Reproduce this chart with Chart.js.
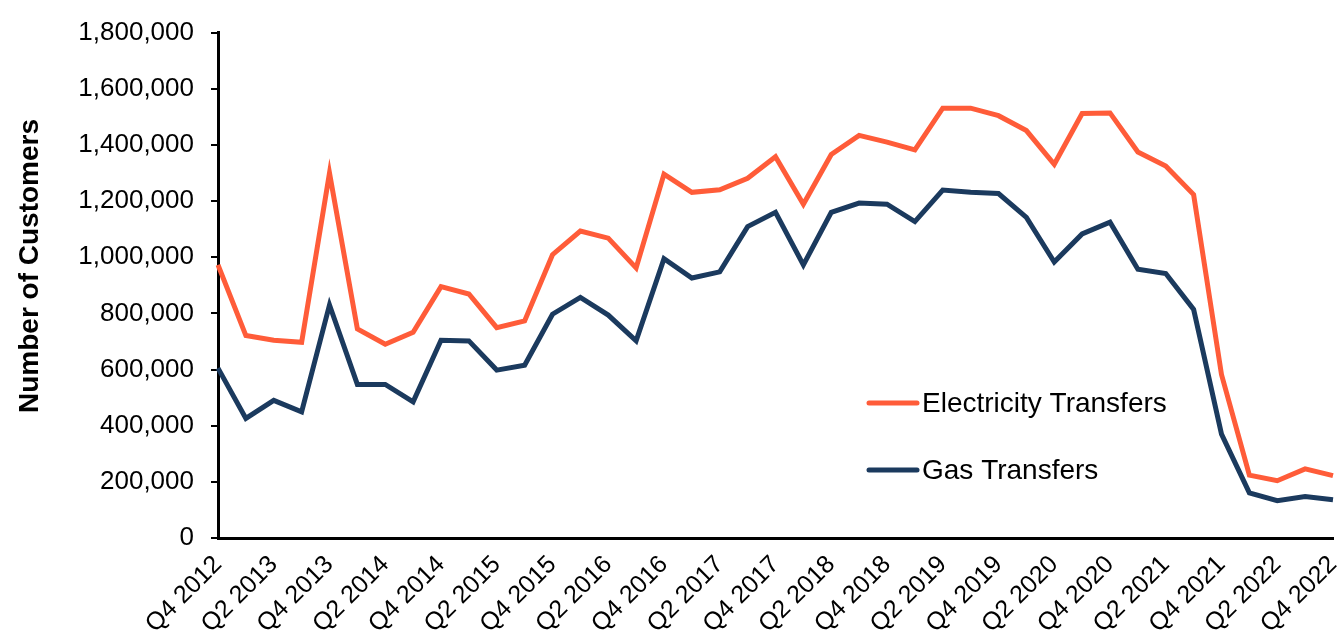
<!DOCTYPE html>
<html>
<head>
<meta charset="utf-8">
<title>Customer Transfers</title>
<script src="https://cdn.jsdelivr.net/npm/chart.js"></script>
<style>
  html, body { margin: 0; padding: 0; background: #fff; }
  .wrap { width: 1338px; height: 639px; position: relative; }
</style>
</head>
<body>
<div class="wrap"><canvas id="transferChart"></canvas></div>
<script>
// quarters Q4 2012 .. Q4 2022
const quarters = [
  'Q4 2012', 'Q1 2013', 'Q2 2013', 'Q3 2013', 'Q4 2013', 'Q1 2014', 'Q2 2014', 'Q3 2014',
  'Q4 2014', 'Q1 2015', 'Q2 2015', 'Q3 2015', 'Q4 2015', 'Q1 2016', 'Q2 2016', 'Q3 2016',
  'Q4 2016', 'Q1 2017', 'Q2 2017', 'Q3 2017', 'Q4 2017', 'Q1 2018', 'Q2 2018', 'Q3 2018',
  'Q4 2018', 'Q1 2019', 'Q2 2019', 'Q3 2019', 'Q4 2019', 'Q1 2020', 'Q2 2020', 'Q3 2020',
  'Q4 2020', 'Q1 2021', 'Q2 2021', 'Q3 2021', 'Q4 2021', 'Q1 2022', 'Q2 2022', 'Q3 2022',
  'Q4 2022'
];

const electricityTransfers = [
  973000, 721000, 704000, 697000, 1300000, 745000, 690000, 733000,
  895000, 869000, 749000, 773000, 1009000, 1093000, 1068000, 962000,
  1296000, 1231000, 1240000, 1281000, 1358000, 1189000, 1366000, 1434000,
  1410000, 1382000, 1531000, 1531000, 1504000, 1451000, 1331000, 1512000,
  1514000, 1375000, 1325000, 1223000, 582000, 224000, 204000, 246000,
  222000
];

const gasTransfers = [
  605000, 426000, 490000, 449000, 830000, 547000, 547000, 485000,
  704000, 702000, 598000, 615000, 797000, 857000, 794000, 702000,
  995000, 926000, 948000, 1109000, 1160000, 973000, 1160000, 1193000,
  1189000, 1127000, 1239000, 1231000, 1227000, 1142000, 983000, 1083000,
  1125000, 957000, 942000, 814000, 370000, 161000, 133000, 148000,
  136000
];

const yTitle = 'Number of Customers';
const yMax = 1800000;
const yStep = 200000;

const FONT = "'Liberation Sans', Arial, sans-serif";

// legend drawn inside the plot area, like the original
const insideLegend = {
  id: 'insideLegend',
  afterDraw(chart, args, opts) {
    const ctx = chart.ctx;
    ctx.save();
    chart.data.datasets.forEach((ds, i) => {
      const y = opts.y + i * opts.gap;
      ctx.strokeStyle = ds.borderColor;
      ctx.lineWidth = 5;
      ctx.lineCap = 'round';
      ctx.beginPath();
      ctx.moveTo(opts.x, y);
      ctx.lineTo(opts.x + 48, y);
      ctx.stroke();
      ctx.fillStyle = '#000';
      ctx.font = '28px ' + FONT;
      ctx.textBaseline = 'middle';
      ctx.textAlign = 'left';
      ctx.fillText(ds.label, opts.x + 53, y + 1);
    });
    ctx.restore();
  }
};

// y axis title, sits a bit above the middle of the axis in the original
const sideTitle = {
  id: 'sideTitle',
  afterDraw(chart, args, opts) {
    const ctx = chart.ctx;
    ctx.save();
    ctx.translate(opts.x, opts.y);
    ctx.rotate(-Math.PI / 2);
    ctx.fillStyle = '#000';
    ctx.font = 'bold 28px ' + FONT;
    ctx.textAlign = 'center';
    ctx.textBaseline = 'middle';
    ctx.fillText(opts.text, 0, 0);
    ctx.restore();
  }
};

const ctx = document.getElementById('transferChart').getContext('2d');
new Chart(ctx, {
  type: 'line',
  data: {
    labels: quarters,
    datasets: [
      {
        label: 'Electricity Transfers',
        data: electricityTransfers,
        borderColor: '#FF5C39',
        borderWidth: 5,
        pointRadius: 0,
        tension: 0,
        fill: false
      },
      {
        label: 'Gas Transfers',
        data: gasTransfers,
        borderColor: '#1B3A5E',
        borderWidth: 5,
        pointRadius: 0,
        tension: 0,
        fill: false
      }
    ]
  },
  options: {
    responsive: true,
    maintainAspectRatio: false,
    animation: false,
    layout: { padding: { top: 28, right: 5, left: 0, bottom: 0 } },
    plugins: {
      legend: { display: false },
      tooltip: { enabled: false },
      insideLegend: { x: 869, y: 403, gap: 67 },
      sideTitle: { text: yTitle, x: 30, y: 266 }
    },
    scales: {
      x: {
        offset: false,
        grid: { display: false },
        border: { display: true, color: '#000', width: 3 },
        ticks: {
          autoSkip: false,
          minRotation: 45,
          maxRotation: 45,
          padding: 4,
          color: '#000',
          font: { family: FONT, size: 25 },
          callback: function (v, i) { return i % 2 === 0 ? this.getLabelForValue(v) : ''; }
        },
        afterFit: (scale) => {
          scale.height = 101;
          scale.paddingLeft = 0;
          scale.paddingRight = 0;
        }
      },
      y: {
        min: 0,
        max: yMax,
        grid: { drawOnChartArea: false, drawTicks: true, tickLength: 7, color: '#000', lineWidth: 2 },
        border: { display: true, color: '#000', width: 3 },
        ticks: {
          stepSize: yStep,
          padding: 17,
          color: '#000',
          font: { family: FONT, size: 26 },
          callback: (v) => v.toLocaleString('en-US')
        },
        afterFit: (scale) => { scale.width = 218; }
      }
    }
  },
  plugins: [insideLegend, sideTitle]
});
</script>
</body>
</html>
